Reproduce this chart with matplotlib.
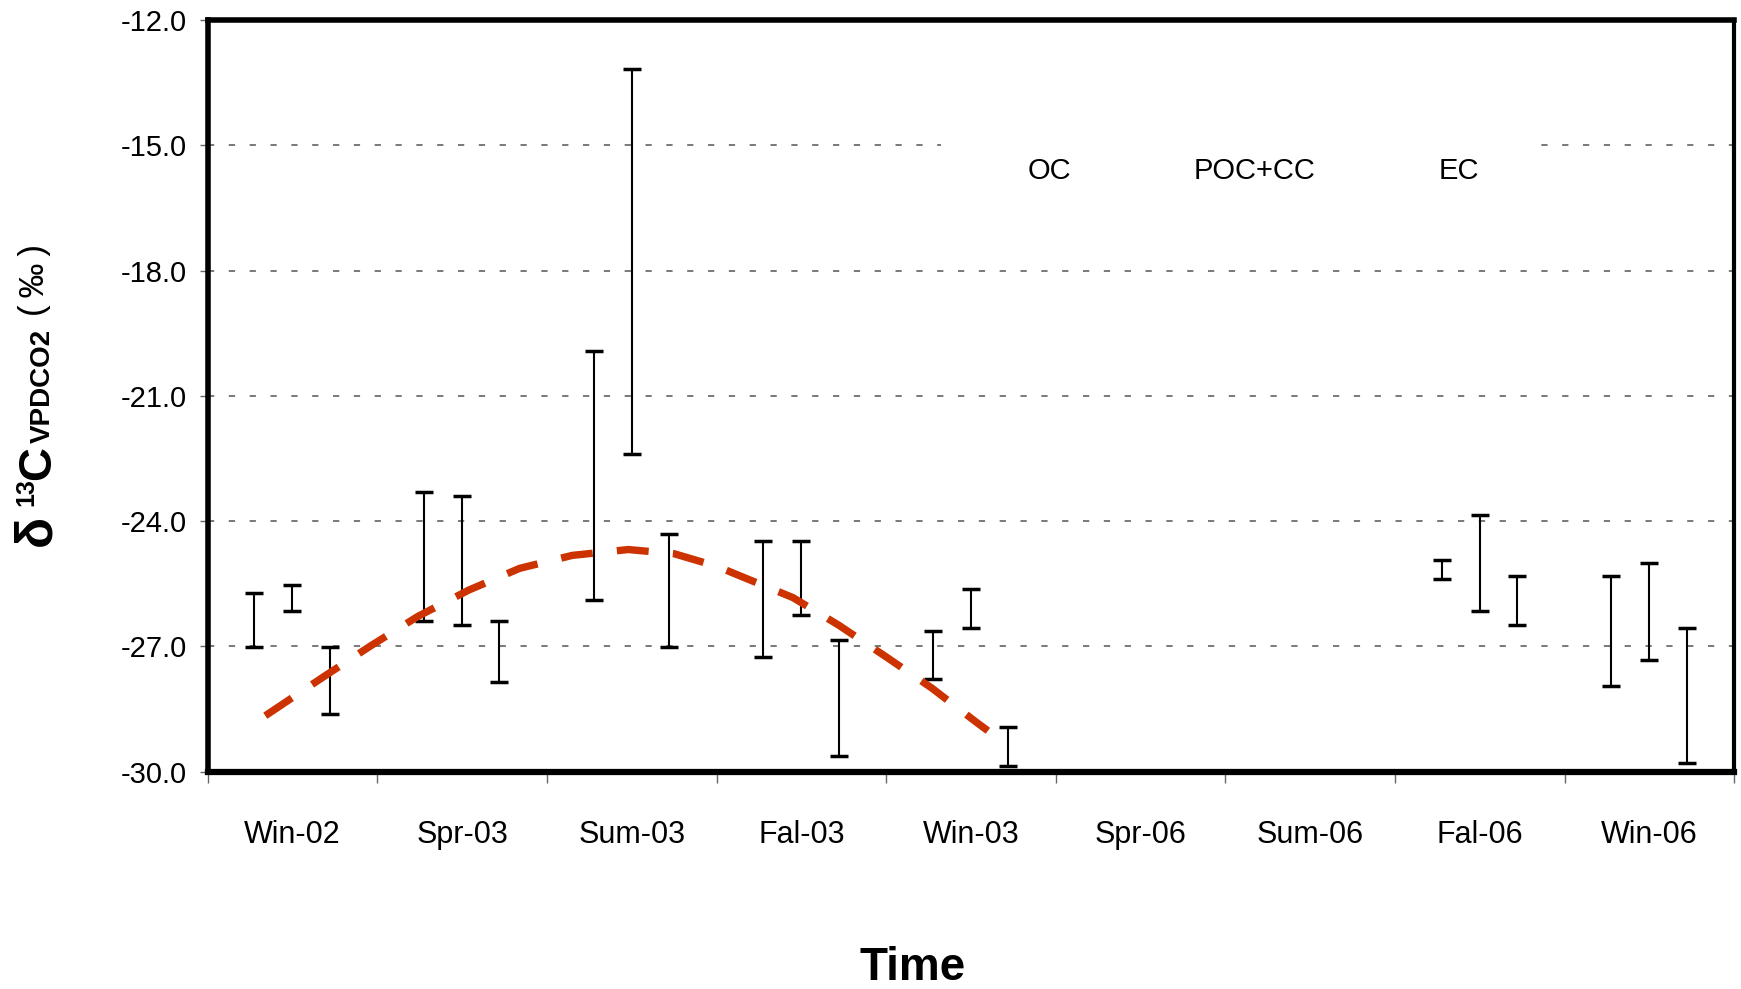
import numpy as np
import matplotlib
matplotlib.use('Agg')
import matplotlib.pyplot as plt
from matplotlib.patches import Rectangle
from matplotlib import font_manager

# ---------------- data ----------------
categories = ['Win-02', 'Spr-03', 'Sum-03', 'Fal-03', 'Win-03',
              'Spr-06', 'Sum-06', 'Fal-06', 'Win-06']
series_names = ['OC', 'POC+CC', 'EC']
nan = np.nan
oc_high = [-25.71, -23.30, -19.92, -24.47, -26.62, nan, nan, -24.94, -25.31]
oc_low = [-27.01, -26.40, -25.88, -27.26, -27.78, nan, nan, -25.39, -27.94]
poc_high = [-25.53, -23.41, -13.17, -24.47, -25.62, nan, nan, -23.86, -25.01]
poc_low = [-26.16, -26.48, -22.40, -26.24, -26.56, nan, nan, -26.16, -27.32]
ec_high = [-27.01, -26.40, -24.31, -26.85, -28.93, nan, nan, -25.31, -26.55]
ec_low = [-28.62, -27.86, -27.02, -29.62, -29.86, nan, nan, -26.48, -29.78]

# red dashed trend curve (x in category units)
trend_x = [-0.16, 0.19, 0.46, 0.74, 1.04, 1.34, 1.65, 1.98, 2.25, 2.50,
           2.95, 3.22, 3.50, 3.77, 4.03, 4.10]
trend_y = [-28.66, -27.71, -26.99, -26.28, -25.65, -25.13, -24.82, -24.68,
           -24.78, -25.08, -25.83, -26.49, -27.25, -28.00, -28.81, -29.02]

yticks = [-30.0, -27.0, -24.0, -21.0, -18.0, -15.0, -12.0]

# ---------------- fonts ----------------
names = {f.name for f in font_manager.fontManager.ttflist}
narrow = 'Liberation Sans Narrow' if 'Liberation Sans Narrow' in names else 'Liberation Sans'
NARROW = [narrow, 'Liberation Sans', 'DejaVu Sans']
SANS = ['Liberation Sans', 'DejaVu Sans']
plt.rcParams['font.family'] = NARROW
plt.rcParams['lines.scale_dashes'] = False

W, H = 1741, 989
fig = plt.figure(figsize=(W / 100, H / 100), dpi=100)
L, R, T, B = 207.6, 1734.3, 20.0, 771.7
ax = fig.add_axes([L / W, 1 - B / H, (R - L) / W, (B - T) / H])

ax.set_xlim(-0.5, len(categories) - 0.5)
ax.set_ylim(-30, -12)

offsets = [-0.225, 0.0, 0.22]
highs = [oc_high, poc_high, ec_high]
lows = [oc_low, poc_low, ec_low]
xc = np.arange(len(categories))
for off, hi, lo in zip(offsets, highs, lows):
    hi = np.array(hi)
    lo = np.array(lo)
    xs = xc + off
    m = ~np.isnan(hi)
    ax.vlines(xs[m], lo[m], hi[m], colors='black', linewidth=1.5, zorder=3)
    ax.plot(xs[m], hi[m], linestyle='none', marker='_', markersize=12.5,
            markeredgewidth=2.5, color='black', zorder=3)
    ax.plot(xs[m], lo[m], linestyle='none', marker='_', markersize=12.5,
            markeredgewidth=2.5, color='black', zorder=3)

ax.plot(trend_x, trend_y, color='#CC3300', linewidth=5.3,
        linestyle=(0, (23, 17.5)), dash_capstyle='butt', zorder=4)

# grid
ax.set_axisbelow(True)
ax.set_yticks(yticks)
ax.set_yticklabels([f'{v:.1f}' for v in yticks])
ax.yaxis.grid(True, color='#555555', linewidth=1.1, linestyle=(0, (4.5, 10.5)))
ax.xaxis.grid(False)

# x ticks: boundaries (major) + labels at centres (minor)
ax.set_xticks(np.arange(-0.5, len(categories), 1.0))
ax.set_xticklabels([])
ax.set_xticks(xc, minor=True)
ax.set_xticklabels(categories, minor=True)
ax.tick_params(axis='x', which='major', direction='out', length=8,
               width=1.0, color='#666666')
ax.tick_params(axis='x', which='minor', length=0, pad=35, labelsize=22)
ax.tick_params(axis='y', which='major', direction='out', length=6,
               width=1.0, color='#666666', pad=9, labelsize=21)
for lab in ax.get_xticklabels(minor=True) + ax.get_yticklabels():
    lab.set_family(NARROW)

for side, lw in [('left', 4.0), ('bottom', 4.5), ('top', 4.0), ('right', 3.0)]:
    ax.spines[side].set_linewidth(lw)
    ax.spines[side].set_color('black')

# legend area (white box with the three names)
ax.add_patch(Rectangle((941.5 / W, 1 - 205 / H), (1527 - 941.5) / W, 80 / H,
                       transform=fig.transFigure, facecolor='white',
                       edgecolor='none', zorder=1.5))
for name, cx in zip(series_names, [1049, 1255, 1459]):
    fig.text(cx / W, 1 - 171 / H, name, ha='center', va='center',
             fontsize=21, family=NARROW, zorder=5)

# y label composed of pieces (rotated)
def vtext(x, y, s, size, weight='bold', fam=SANS):
    fig.text(x / W, 1 - y / H, s, rotation=90, rotation_mode='anchor',
             ha='left', va='baseline', fontsize=size, fontweight=weight,
             family=fam)

vtext(50, 546, 'δ', 37)
vtext(33, 506, '13', 18)
vtext(50, 480, 'C', 34)
vtext(50, 443, 'VPDCO2', 20)
vtext(44, 316, '(\u2009‰\u2009)', 25, weight='normal')

fig.text(913 / W, 1 - 980 / H, 'Time', ha='center', va='baseline',
         fontsize=33, fontweight='bold', family=SANS)

fig.savefig('out.png', dpi=100)
